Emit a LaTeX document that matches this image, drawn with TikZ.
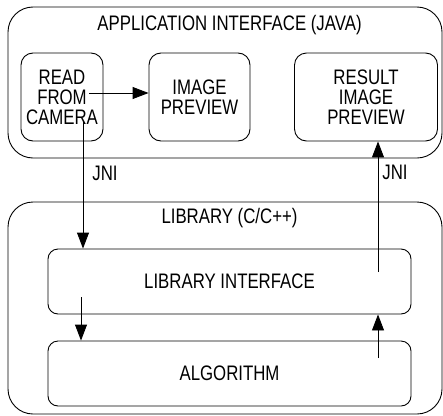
\documentclass[tikz,border=0pt]{standalone}
\usepackage{fontspec}
\setmainfont{Liberation Sans}[FakeStretch=0.8]
\usetikzlibrary{arrows.meta}
\begin{document}
\begin{tikzpicture}[x=1pt,y=-1pt,
  every node/.style={font=\fontsize{21}{20}\selectfont, inner sep=0pt},
  frame/.style={draw, line width=0.9pt, rounded corners=25pt},
  block/.style={draw, line width=0.9pt, rounded corners=12pt, align=center},
  title/.style={anchor=base},
  arr/.style={line width=0.9pt, -{Triangle[length=16pt,width=12pt]}}]
  \useasboundingbox[fill=white] (0,0) rectangle (443,415);

  % Java application layer
  \node[frame, minimum width=434pt, minimum height=151pt] (app) at (225,82.5) {};
  \node[title] (apptitle) at (229.5,30) {APPLICATION INTERFACE (JAVA)};
  \node[block, minimum width=82pt, minimum height=88pt] (cam) at (62,97) {READ\\FROM\\CAMERA};
  \node[block, minimum width=101pt, minimum height=88pt] (prev) at (199.5,97) {IMAGE\\PREVIEW};
  \node[block, minimum width=143pt, minimum height=88pt] (res) at (366,97) {RESULT\\IMAGE\\PREVIEW};

  % Native library layer
  \node[frame, minimum width=434pt, minimum height=212pt] (lib) at (225,308) {};
  \node[title] (libtitle) at (229.5,223) {LIBRARY (C/C++)};
  \node[block, rounded corners=10pt, minimum width=363pt, minimum height=65pt] (libif) at (229.5,281.5) {LIBRARY INTERFACE};
  \node[block, rounded corners=10pt, minimum width=363pt, minimum height=65pt] (algo) at (229.5,373.5) {ALGORITHM};

  % JNI labels
  \node[title] (jnil) at (105,180) {JNI};
  \node[title] (jnir) at (395,179) {JNI};

  % Connector start points inside the boxes
  \coordinate (camout) at (89,93);
  \coordinate (camdown) at (83,122);
  \coordinate (libup) at (378,272);
  \coordinate (ifdown) at (81,297);
  \coordinate (algup) at (378,358);

  \draw[arr] (camout) -- (camout -| prev.west);
  \draw[arr] (camdown) -- (camdown |- libif.north);
  \draw[arr] (libup) -- (libup |- res.south);
  \draw[arr] (ifdown) -- (ifdown |- algo.north);
  \draw[arr] (algup) -- (algup |- libif.south);
\end{tikzpicture}
\end{document}
